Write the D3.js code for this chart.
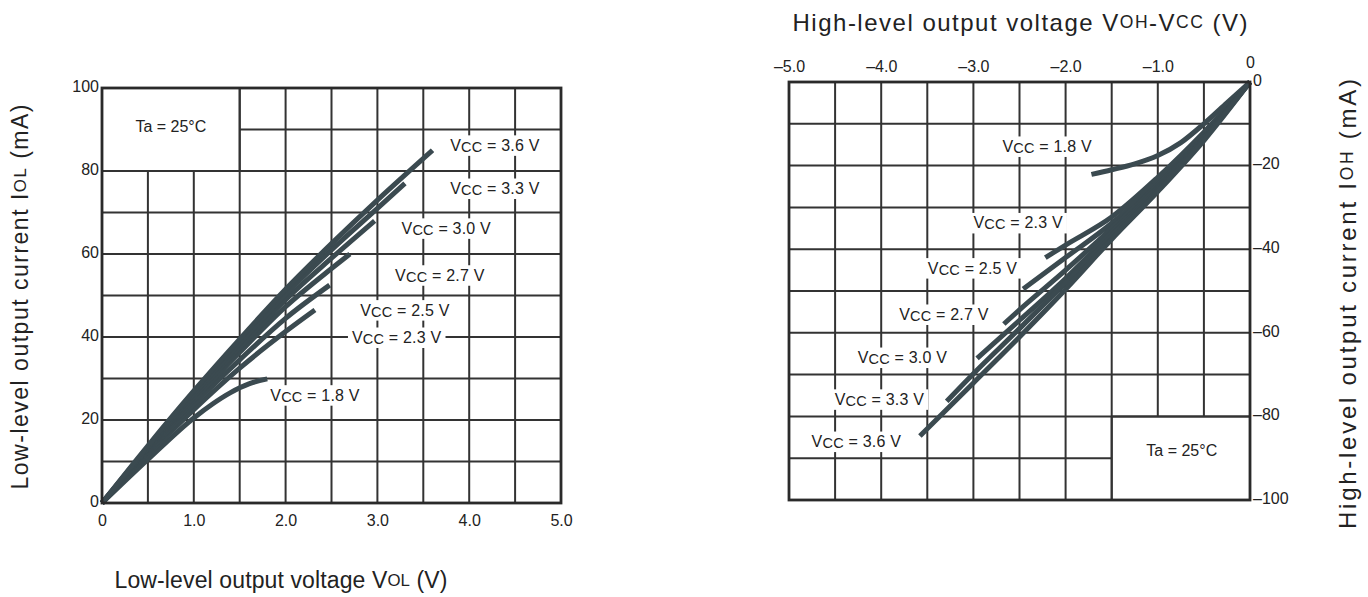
<!DOCTYPE html>
<html>
<head>
<meta charset="utf-8">
<script src="https://cdn.jsdelivr.net/npm/d3@7"></script>
<style>
  html, body { margin: 0; padding: 0; background: #fff; }
  svg { display: block; }
  text { font-family: "Liberation Sans", Arial, Helvetica, sans-serif; fill: #222; }
</style>
</head>
<body>
<svg id="chart" width="1368" height="597"></svg>
<script>
// ---- Data: output characteristics at Ta = 25 °C ----
const supplyLevels = ["1.8", "2.3", "2.5", "2.7", "3.0", "3.3", "3.6"];

// Low-level output: [V_OL (V), I_OL (mA)]
const iol18 = [[0,0],[0.5,10.5],[1.0,20.5],[1.2,23.8],[1.4,26.6],[1.6,28.7],[1.8,29.9]];
const iol23 = [[0,0],[0.5,11.6],[1.0,22.5],[1.5,32.5],[2.0,41.3],[2.32,46.5]];
const iol25 = [[0,0],[0.5,12.2],[1.0,23.8],[1.5,34.5],[2.0,44.5],[2.48,52.5]];
const iol27 = [[0,0],[0.5,12.7],[1.0,24.8],[1.5,36.3],[2.0,47.3],[2.5,56.5],[2.7,60]];
const iol30 = [[0,0],[0.5,13.1],[1.0,25.6],[1.5,37.5],[2.0,49],[2.5,59],[2.97,68]];
const iol33 = [[0,0],[0.5,13.4],[1.0,26.3],[1.5,38.5],[2.0,50.3],[2.5,61],[3.0,71],[3.3,77]];
const iol36 = [[0,0],[0.5,13.8],[1.0,27],[1.5,39.5],[2.0,51.5],[2.5,62.5],[3.0,73],[3.6,85]];

// High-level output: [V_OH - V_CC (V), I_OH (mA)]
const ioh18 = [[0,0],[-0.25,-5],[-0.5,-10],[-0.75,-14.5],[-1.0,-17.6],[-1.25,-19.6],[-1.5,-21],[-1.72,-22.1]];
const ioh23 = [[0,0],[-0.5,-12],[-1.0,-22.8],[-1.5,-32.3],[-2.0,-39],[-2.22,-42]];
const ioh25 = [[0,0],[-0.5,-12.5],[-1.0,-23.8],[-1.5,-33.8],[-2.0,-42],[-2.46,-49.5]];
const ioh27 = [[0,0],[-0.5,-13],[-1.0,-24.6],[-1.5,-35],[-2.0,-45],[-2.5,-54.5],[-2.67,-57.9]];
const ioh30 = [[0,0],[-0.5,-13.3],[-1.0,-25.2],[-1.5,-36],[-2.0,-47],[-2.5,-57],[-2.96,-66.1]];
const ioh33 = [[0,0],[-0.5,-13.6],[-1.0,-25.7],[-1.5,-36.8],[-2.0,-48],[-2.5,-59],[-3.0,-69.8],[-3.29,-76.4]];
const ioh36 = [[0,0],[-0.5,-14],[-1.0,-26.2],[-1.5,-37.6],[-2.0,-49.6],[-2.5,-61],[-3.0,-72],[-3.58,-84.7]];

const iolSeries = [iol18, iol23, iol25, iol27, iol30, iol33, iol36];
const iohSeries = [ioh18, ioh23, ioh25, ioh27, ioh30, ioh33, ioh36];

// Tick labels
const volTicks = [0, 1, 2, 3, 4, 5];
const volTickText = ["0", "1.0", "2.0", "3.0", "4.0", "5.0"];
const iolTicks = [0, 20, 40, 60, 80, 100];
const vohTicks = [-5, -4, -3, -2, -1, 0];
const vohTickText = ["\u20135.0", "\u20134.0", "\u20133.0", "\u20132.0", "\u20131.0", "0"];
const iohTicks = [0, -20, -40, -60, -80, -100];
const iohTickText = ["0", "\u201320", "\u201340", "\u201360", "\u201380", "\u2013100"];

// ---- Layout ----
const lowLayout = {
  x: d3.scaleLinear([0, 5], [102, 561]),
  y: d3.scaleLinear([0, 100], [503, 88]),
  tempBox: { x0: 0, x1: 1.5, y0: 80, y1: 100 },
  tempText: [0.75, 90.8],
  labelAt: [[2.32, 26.1], [3.21, 40.0], [3.30, 46.6], [3.68, 55.0], [3.75, 66.3], [4.28, 75.9], [4.28, 86.3]]
};
const highLayout = {
  x: d3.scaleLinear([-5, 0], [789, 1250]),
  y: d3.scaleLinear([-100, 0], [500, 82]),
  tempBox: { x0: -1.5, x1: 0, y0: -100, y1: -80 },
  tempText: [-0.74, -88.2],
  labelAt: [[-2.20, -15.3], [-2.515, -33.6], [-3.01, -44.4], [-3.32, -55.5], [-3.77, -65.8], [-4.02, -75.8], [-4.27, -85.9]]
};

const gridColor = "#333";
const curveColor = "#3b4a50";

const svg = d3.select("#chart");

function drawGrid(g, L, xStep, yStep) {
  const [xa, xb] = L.x.domain();
  const [ya, yb] = L.y.domain();
  const b = L.tempBox;
  const eps = 1e-9;
  const segs = [];
  // vertical lines, cut short where they would cross the temperature box
  for (let v = xa + xStep; v < xb - eps; v += xStep) {
    if (v > b.x0 + eps && v < b.x1 - eps) {
      if (b.y0 <= ya + eps) segs.push([v, b.y1, v, yb]);
      else segs.push([v, ya, v, b.y0]);
    } else segs.push([v, ya, v, yb]);
  }
  // horizontal lines
  for (let h = ya + yStep; h < yb - eps; h += yStep) {
    if (h > b.y0 + eps && h < b.y1 - eps) {
      if (b.x0 <= xa + eps) segs.push([b.x1, h, xb, h]);
      else segs.push([xa, h, b.x0, h]);
    } else segs.push([xa, h, xb, h]);
  }
  g.selectAll("line.grid").data(segs).join("line")
    .attr("class", "grid")
    .attr("x1", d => L.x(d[0])).attr("y1", d => L.y(d[1]))
    .attr("x2", d => L.x(d[2])).attr("y2", d => L.y(d[3]))
    .attr("stroke", gridColor).attr("stroke-width", 2);
  // temperature box edges
  const bx = b.x0 <= xa + eps ? b.x1 : b.x0;
  const by = b.y0 <= ya + eps ? b.y1 : b.y0;
  g.append("line").attr("x1", L.x(bx)).attr("x2", L.x(bx))
    .attr("y1", L.y(b.y0)).attr("y2", L.y(b.y1))
    .attr("stroke", gridColor).attr("stroke-width", 2);
  g.append("line").attr("x1", L.x(b.x0)).attr("x2", L.x(b.x1))
    .attr("y1", L.y(by)).attr("y2", L.y(by))
    .attr("stroke", gridColor).attr("stroke-width", 2);
}

function drawFrame(g, L) {
  const [x0, x1] = L.x.range();
  const [y0, y1] = L.y.range();
  g.append("rect")
    .attr("x", Math.min(x0, x1)).attr("y", Math.min(y0, y1))
    .attr("width", Math.abs(x1 - x0)).attr("height", Math.abs(y1 - y0))
    .attr("fill", "none").attr("stroke", "#2a2a2a").attr("stroke-width", 2.8);
}

function vccLabel(g, L, pos, level) {
  const t = g.append("text")
    .attr("x", L.x(pos[0])).attr("y", L.y(pos[1]))
    .attr("text-anchor", "middle").attr("dominant-baseline", "central")
    .attr("font-size", 16).attr("letter-spacing", 0.2);
  t.append("tspan").text("V");
  t.append("tspan").attr("font-size", 14.5).attr("dy", 2).text("CC");
  t.append("tspan").attr("dy", -2).text(" = " + level + " V");
  const bb = t.node().getBBox();
  g.insert("rect", () => t.node())
    .attr("x", bb.x - 4).attr("y", bb.y - 1)
    .attr("width", bb.width + 8).attr("height", bb.height + 2)
    .attr("fill", "#fff");
}

function drawCurves(g, L, series) {
  const line = d3.line()
    .x(d => L.x(d[0])).y(d => L.y(d[1]))
    .curve(d3.curveMonotoneX);
  g.selectAll("path.curve").data(series).join("path")
    .attr("class", "curve")
    .attr("d", d => line(d.slice().sort((a, b) => a[0] - b[0])))
    .attr("fill", "none").attr("stroke", curveColor)
    .attr("stroke-width", 5).attr("stroke-linejoin", "round");
}

// Axis title with small-caps style subscripts, stretched to a given length
function axisTitle(g, x, y, rotate, size, length, parts) {
  const t = g.append("text")
    .attr("transform", `translate(${x},${y}) rotate(${rotate})`)
    .attr("text-anchor", "middle").attr("dominant-baseline", "central")
    .attr("font-size", size)
    .attr("textLength", length).attr("lengthAdjust", "spacing");
  parts.forEach(p => {
    const s = t.append("tspan").text(p[0]);
    if (p[1]) s.attr("font-size", size * 0.73);
  });
}

// ---------- Low-level output chart ----------
{
  const L = lowLayout;
  const g = svg.append("g");
  drawGrid(g, L, 0.5, 10);
  const lab = g.append("g");
  L.labelAt.forEach((p, i) => vccLabel(lab, L, p, supplyLevels[i]));
  g.append("text").attr("x", L.x(L.tempText[0])).attr("y", L.y(L.tempText[1]))
    .attr("text-anchor", "middle").attr("dominant-baseline", "central")
    .attr("font-size", 16).text("Ta = 25\u00B0C");
  drawCurves(g.append("g"), L, iolSeries);
  drawFrame(g, L);

  const ax = g.append("g").attr("transform", `translate(0,${L.y(0) + 18})`)
    .call(d3.axisBottom(L.x).tickValues(volTicks).tickFormat((d, i) => volTickText[i]).tickSize(0).tickPadding(0));
  ax.select(".domain").remove();
  ax.selectAll("text").attr("font-size", 16).attr("font-family", null).attr("dy", "0.32em").attr("y", 0);

  const ay = g.append("g").attr("transform", `translate(${L.x(0) - 3},0)`)
    .call(d3.axisLeft(L.y).tickValues(iolTicks).tickSize(0).tickPadding(0));
  ay.select(".domain").remove();
  ay.selectAll("text").attr("font-size", 16).attr("font-family", null).attr("dy", "0.2em");

  axisTitle(g, 281, 580, 0, 23, 333, [["Low-level output voltage V"], ["OL", true], [" (V)"]]);
  axisTitle(g, 20, 297, -90, 23, 385, [["Low-level output current I"], ["OL", true], [" (mA)"]]);
}

// ---------- High-level output chart ----------
{
  const L = highLayout;
  const g = svg.append("g");
  drawGrid(g, L, 0.5, 10);
  const lab = g.append("g");
  L.labelAt.forEach((p, i) => vccLabel(lab, L, p, supplyLevels[i]));
  g.append("text").attr("x", L.x(L.tempText[0])).attr("y", L.y(L.tempText[1]))
    .attr("text-anchor", "middle").attr("dominant-baseline", "central")
    .attr("font-size", 16).text("Ta = 25\u00B0C");
  drawCurves(g.append("g"), L, iohSeries);
  drawFrame(g, L);

  const ax = g.append("g").attr("transform", `translate(0,${L.y(0) - 15})`)
    .call(d3.axisTop(L.x).tickValues(vohTicks).tickFormat((d, i) => vohTickText[i]).tickSize(0).tickPadding(0));
  ax.select(".domain").remove();
  ax.selectAll("text").attr("font-size", 16).attr("font-family", null).attr("dy", "0.32em").attr("y", 0);
  ax.selectAll("text").filter(d => d === 0).attr("y", -4);

  const ay = g.append("g").attr("transform", `translate(${L.x(0) + 3},0)`)
    .call(d3.axisRight(L.y).tickValues(iohTicks).tickFormat((d, i) => iohTickText[i]).tickSize(0).tickPadding(0));
  ay.select(".domain").remove();
  ay.selectAll("text").attr("font-size", 16).attr("font-family", null).attr("dy", "0.2em").attr("text-anchor", "start");

  axisTitle(g, 1020, 22, 0, 24, 455, [["High-level output voltage V"], ["OH", true], ["-V"], ["CC", true], [" (V)"]]);
  axisTitle(g, 1347, 304, -90, 24, 450, [["High-level output current I"], ["OH", true], [" (mA)"]]);
}
</script>
</body>
</html>
